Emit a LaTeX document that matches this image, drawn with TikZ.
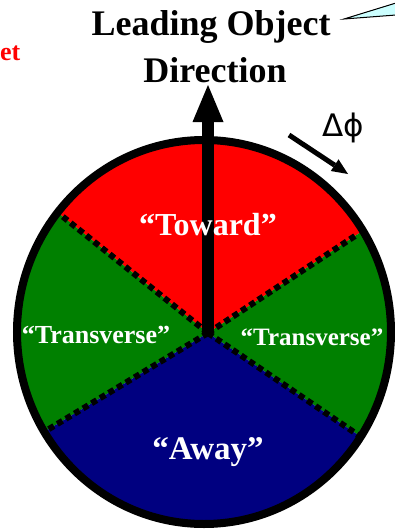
\documentclass[tikz,border=0pt]{standalone}
\usepackage{fontspec}
\setmainfont{Liberation Serif}
\newfontfamily\greekfont{DejaVu Sans}
\usetikzlibrary{arrows.meta,calc}
\definecolor{wedgered}{RGB}{255,0,0}
\definecolor{wedgegreen}{RGB}{0,128,0}
\definecolor{wedgeblue}{RGB}{0,0,128}
\definecolor{calloutfill}{RGB}{204,255,255}

\begin{document}
\begin{tikzpicture}[x=1pt, y=-1pt,
    zone/.style={text=white, anchor=base, inner sep=0pt,
                 font=\fontsize{#1}{#1}\selectfont\bfseries},
    title/.style={anchor=base, inner sep=0pt,
                  font=\fontsize{36}{36}\selectfont\bfseries},
    border/.style={line width=6pt, dash pattern=on 6pt off 4pt},
    rim/.style={line width=8pt},
    bigarrow/.style={line width=12pt, -{Triangle[length=37pt 0,width=31pt 0,line width=0pt 0]}},
    turnarrow/.style={line width=5pt, -{Triangle[length=16pt 0,width=14pt 0,line width=0pt 0]}}
]
\useasboundingbox (0,0) rectangle (394,530);

% --- wedges ---
\coordinate (c) at (208,333);
\coordinate (ul) at (62,216);
\coordinate (ur) at (358,234);
\coordinate (ll) at (44,432);
\coordinate (lr) at (364,439);

\begin{scope}
  \clip (204,332) ellipse [x radius=187pt, y radius=192pt];
  \fill[wedgered] (c) -- ($(c)!3!(ul)$) -- (204,-300) -- ($(c)!3!(ur)$) -- cycle;
  \fill[wedgegreen] (c) -- ($(c)!3!(ul)$) -- (-300,332) -- ($(c)!3!(ll)$) -- cycle;
  \fill[wedgegreen] (c) -- ($(c)!3!(ur)$) -- (700,332) -- ($(c)!3!(lr)$) -- cycle;
  \fill[wedgeblue] (c) -- ($(c)!3!(ll)$) -- (204,900) -- ($(c)!3!(lr)$) -- cycle;
\end{scope}

\draw[border] (c) -- (ul);
\draw[border] (c) -- (ur);
\draw[border] (c) -- (ll);
\draw[border] (c) -- (lr);

\draw[rim] (204,332) ellipse [x radius=187pt, y radius=192pt];

% --- direction arrows ---
\coordinate (tip) at (208,85);
\draw[bigarrow] (c) -- (tip);

\coordinate (dstart) at (289,135);
\coordinate (dend) at (348,174);
\draw[turnarrow] (dstart) -- (dend);
\node[font=\fontsize{31}{31}\selectfont\greekfont, anchor=base] (dphi) at (343,136) {Δϕ};

% --- labels ---
\node[title] (lead) at (211,35) {Leading Object};
\node[title] (dir) at (215,82) {Direction};

\node[zone=32] (toward) at (208,235) {“Toward”};
\node[zone=26] (transl) at (96,343) {“Transverse”};
\node[zone=25] (transr) at (312,345) {“Transverse”};
\node[zone=33] (away) at (208,459) {“Away”};

\node[text=red, anchor=base west, inner sep=0pt,
      font=\fontsize{26}{26}\selectfont\bfseries] (tag) at (0,60) {et};

% --- callout pointer ---
\filldraw[fill=calloutfill, draw=black, line width=1pt]
    (344,19) -- (396,3) -- (396,15) -- cycle;

\end{tikzpicture}
\end{document}
